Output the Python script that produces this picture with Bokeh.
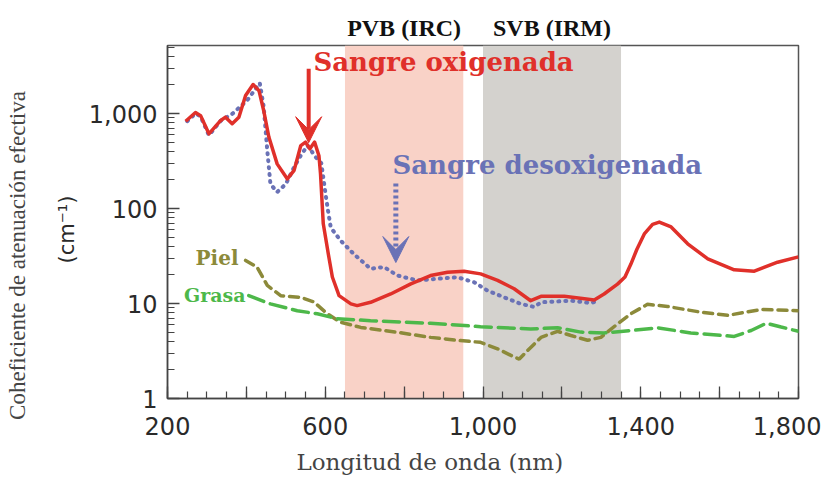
from bokeh.plotting import figure
from bokeh.models import (BoxAnnotation, Label, Arrow, VeeHead, FixedTicker, LinearAxis)
from bokeh.embed import file_html
from bokeh.resources import INLINE

# ---- data ----
wl_oxy = [246, 271, 284, 305, 335, 347, 364, 381, 398, 417, 432, 444, 457, 478, 504,
          521, 538, 550, 561, 573, 584, 588, 595, 609, 618, 635, 665, 681, 715, 766,
          817, 867, 910, 952, 994, 1037, 1079, 1121, 1147, 1206, 1257, 1282, 1307,
          1341, 1360, 1375, 1390, 1409, 1430, 1447, 1477, 1519, 1570, 1637, 1688,
          1747, 1800]
oxy = [830, 1025, 950, 611, 845, 915, 780, 915, 1550, 2020, 1740, 1070, 565, 295, 205,
       252, 460, 500, 425, 500, 360, 232, 69, 31, 19, 12.1, 9.9, 9.5, 10.3, 12.6,
       16.1, 19.7, 21.3, 21.9, 20.5, 17.5, 14.3, 10.7, 11.9, 11.9, 11.2, 10.9, 12.6,
       16, 19, 26, 37, 54, 68, 72, 64, 42.5, 29.5, 22.6, 21.9, 27.2, 31]

wl_deoxy = [250, 271, 284, 305, 335, 364, 402, 434, 444, 453, 461, 478, 500, 521, 538,
            555, 576, 590, 600, 607, 614, 639, 673, 715, 749, 783, 834, 884, 935, 978,
            1011, 1054, 1096, 1130, 1147, 1223, 1274, 1295]
deoxy = [830, 1000, 930, 590, 840, 990, 1375, 2090, 1170, 410, 181, 149, 181, 272, 362,
         460, 347, 300, 150, 95, 63, 46, 33, 23.2, 24.2, 19.7, 17.5, 18.2, 18.9, 16.7,
         13.7, 11.6, 9.9, 9.2, 10.3, 10.7, 10.1, 10.8]

wl_skin = [398, 427, 453, 487, 538, 571, 605, 639, 690, 780, 867, 935, 994, 1037, 1071,
           1092, 1113, 1147, 1189, 1223, 1265, 1299, 1341, 1375, 1417, 1468, 1553, 1621,
           1705, 1800]
skin = [28.4, 24.2, 15.5, 12.1, 11.6, 10.4, 7.8, 6.35, 5.6, 5.0, 4.4, 4.1, 3.9, 3.33, 2.84,
        2.6, 3.2, 4.4, 5.1, 4.6, 4.1, 4.4, 6.1, 7.8, 9.8, 9.3, 8.1, 7.5, 8.65, 8.4]

wl_fat = [406, 461, 529, 580, 631, 715, 867, 994, 1121, 1189, 1248, 1307, 1375, 1443,
          1527, 1637, 1680, 1718, 1756, 1800]
fat = [12.1, 9.9, 8.4, 7.8, 6.9, 6.6, 6.2, 5.7, 5.4, 5.55, 5.0, 4.9, 5.2, 5.55,
       4.9, 4.5, 5.2, 6.2, 5.65, 5.1]

bands = [(650, 950), (1000, 1350)]
band_names = ["PVB (IRC)", "SVB (IRM)"]

x_major = [200, 400, 600, 800, 1000, 1200, 1400, 1600, 1800]
x_minor = list(range(200, 1801, 50))
x_labels = {200: "200", 400: "", 600: "600", 800: "", 1000: "1,000", 1200: "",
            1400: "1,400", 1600: "", 1800: "1,800"}
y_major = [1, 10, 100, 1000]
y_minor = [m * d for d in (1, 10, 100, 1000) for m in range(2, 10)]
y_labels = {1: "1", 10: "10", 100: "100", 1000: "1,000"}

x_title = "Longitud de onda (nm)"
y_title = "Coheficiente de atenuación efectiva"
y_unit = "(cm\u207b\u00b9)"

RED = "#E0302A"
BLUE = "#6A72B6"
OLIVE = "#8C8A3A"
GREEN = "#4DB84A"

p = figure(width=821, height=483, y_axis_type="log", x_range=(200, 1800),
           y_range=(1, 5200), output_backend="svg", toolbar_location=None,
           min_border_left=167, min_border_right=23, min_border_top=45,
           min_border_bottom=85)
p.grid.visible = False
p.outline_line_color = "#555555"
p.outline_line_width = 1.5
p.background_fill_color = "white"

for (a, b), col in zip(bands, ["#F9D2C7", "#D4D2CE"]):
    p.add_layout(BoxAnnotation(left=a, right=b, fill_color=col, fill_alpha=1,
                               line_alpha=0, level="underlay"))

p.line(wl_deoxy, deoxy, line_color=BLUE, line_width=4, line_dash="1 6",
       line_cap="round")
p.line(wl_skin, skin, line_color=OLIVE, line_width=3.5, line_dash="9 6",
       line_cap="round")
p.line(wl_fat, fat, line_color=GREEN, line_width=3.5, line_dash="16 7",
       line_cap="round")
p.line(wl_oxy, oxy, line_color=RED, line_width=3.5, line_join="round")

# main axes
for ax in (p.xaxis[0], p.yaxis[0]):
    ax.axis_line_color = "#444444"
    ax.axis_line_width = 1.5
    ax.major_tick_line_color = "#444444"
    ax.minor_tick_line_color = "#444444"
    ax.major_tick_line_width = 1.3
    ax.minor_tick_line_width = 1.2
    ax.major_tick_out = 0
    ax.minor_tick_out = 0
    ax.major_tick_in = 12
    ax.minor_tick_in = 7
    ax.major_label_text_font = "DejaVu Sans"
    ax.major_label_text_font_size = "24px"
    ax.major_label_text_color = "#2a2a2a"

p.xaxis.ticker = FixedTicker(ticks=x_major, minor_ticks=x_minor)
p.xaxis.major_label_overrides = x_labels
p.xaxis.major_label_standoff = 18
p.yaxis.ticker = FixedTicker(ticks=y_major, minor_ticks=y_minor)
p.yaxis.major_label_overrides = y_labels
p.yaxis.major_label_standoff = 10


def text_axis(side, ticks, labels, font, size, style, color, standoff,
              orientation="horizontal"):
    ax = LinearAxis(ticker=FixedTicker(ticks=ticks),
                    major_label_overrides=dict(zip(ticks, labels)),
                    axis_line_color=None, major_tick_line_color=None,
                    minor_tick_line_color=None, major_tick_in=0, major_tick_out=0,
                    minor_tick_in=0, minor_tick_out=0,
                    major_label_text_font=font, major_label_text_font_size=size,
                    major_label_text_font_style=style,
                    major_label_text_color=color,
                    major_label_standoff=standoff,
                    major_label_orientation=orientation)
    p.add_layout(ax, side)
    return ax


# band names above the frame (centred on each band)
text_axis("above", [(a + b) / 2 for a, b in bands], band_names, "Liberation Serif",
          "24px", "bold", "#111111", 5)
# y titles (left), x title (below)
text_axis("left", [60], [y_unit], "DejaVu Sans", "21px", "normal", "#2a2a2a", 6,
          "vertical")
text_axis("left", [32], [y_title], "Liberation Serif", "23px", "normal", "#444444", 22,
          "vertical")
text_axis("below", [865], [x_title], "DejaVu Serif", "23px", "normal", "#444444", 11)

# arrows
p.add_layout(Arrow(x_start=558, y_start=2960, x_end=558, y_end=493,
                   line_color=RED, line_width=4,
                   end=VeeHead(size=26, fill_color=RED, line_color=RED)))
p.add_layout(Arrow(x_start=779, y_start=183, x_end=779, y_end=27,
                   line_color=BLUE, line_width=5, line_dash="3 3",
                   end=VeeHead(size=26, fill_color=BLUE, line_color=BLUE)))

SERIF_B = "DejaVu Serif"


def lab(text, sx, sy, color, size, align="left"):
    p.add_layout(Label(x=sx - 167, y=398 - sy, x_units="screen", y_units="screen",
                       text=text, text_color=color, text_font_size=size,
                       text_font=SERIF_B, text_font_style="bold", text_align=align,
                       text_baseline="middle"))


lab("Sangre oxigenada", 313, 61, RED, "26px")
lab("Sangre desoxigenada", 392, 164, BLUE, "26px")
lab("Piel", 238, 257, OLIVE, "20px", align="right")
lab("Grasa", 245, 294, GREEN, "19px", align="right")

open("out.html", "w").write(file_html(p, INLINE))
